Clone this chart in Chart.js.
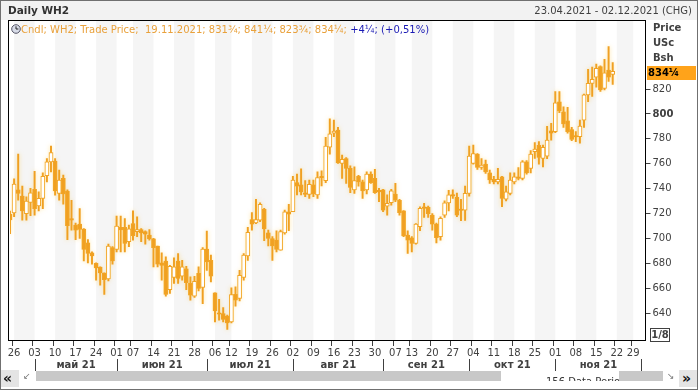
<!DOCTYPE html>
<html>
<head>
<meta charset="utf-8">
<script src="https://cdn.jsdelivr.net/npm/chart.js@4.4.1/dist/chart.umd.min.js"></script>
<style>
body{margin:0;background:#fff;}
#wrap{position:relative;width:698px;height:390px;overflow:hidden;background:#fff;font-family:"DejaVu Sans",sans-serif;font-size:10px;color:#404040;}
#wrap div{position:absolute;white-space:nowrap;}
#chart{position:absolute;left:0;top:0;}
.b{font-weight:bold;}
</style>
</head>
<body>
<div id="wrap">
  <div style="left:0;top:0;width:698px;height:20px;background:#f2f2f2;"></div>
  <canvas id="chart" width="698" height="390"></canvas>
  <div class="b" style="left:8px;top:4px;font-size:10.5px;color:#333;">Daily WH2</div>
  <div style="right:6px;top:5px;">23.04.2021 - 02.12.2021 (CHG)</div>
  <div style="left:11px;top:24px;">
    <svg width="10" height="10" style="vertical-align:-1px"><circle cx="5" cy="5" r="4.3" fill="#d8dce8" stroke="#556" stroke-width="1"/><path d="M5 2.3V5H7.4" stroke="#222" fill="none" stroke-width="1"/></svg><span style="color:#e9a13b">Cndl; WH2; Trade Price;&nbsp; 19.11.2021; 831¾; 841¼; 823¾; 834¼;</span> <span style="color:#1a1ab4">+4¼; (+0,51%)</span>
  </div>
  <div class="b" style="left:653px;top:22px;">Price</div>
  <div class="b" style="left:653px;top:37px;">USc</div>
  <div class="b" style="left:653px;top:52px;">Bsh</div>
  <div class="b" style="left:647px;top:66px;width:48px;height:14px;line-height:14px;background:#ffa31a;color:#000;padding-left:1px;">834¼</div>
  <div class="b" style="left:650px;top:328px;width:18px;height:12px;line-height:12px;border:1px solid #404040;text-align:center;">1/8</div>
  <div style="left:0;top:370px;width:19px;height:17px;background:#e4e4e4;"></div>
  <div class="b" style="left:3px;top:370px;font-size:14px;line-height:17px;color:#111;">«</div>
  <div style="left:23px;top:371px;font-size:9px;color:#777;">↙</div>
  <div style="left:36px;top:371px;width:465px;height:10px;background:#c8c8c8;"></div>
  <div style="left:619px;top:371px;width:44px;height:10px;background:#c8c8c8;"></div>
  <div style="left:545px;top:371px;width:74px;height:10px;overflow:hidden;background:#fff;"><span style="position:absolute;left:1px;top:5px;font-size:10px;color:#333;">156 Data Period</span></div>
  <div style="left:667px;top:371px;font-size:9px;color:#777;">↘</div>
  <div style="left:679px;top:370px;width:18px;height:17px;background:#e4e4e4;"></div>
  <div class="b" style="left:682px;top:370px;font-size:14px;line-height:17px;color:#111;">»</div>
  <div style="left:0;top:0;width:696px;height:388px;border:1px solid #707070;"></div>
</div>
<script>
var FONT = '"DejaVu Sans", sans-serif';
var ORANGE = '#f0a022';
var BAND = '#f5f5f5';

// trading days shown on the axis (last 8 are still empty)
var dates = ('23.04 26.04 27.04 28.04 29.04 30.04 ' +
  '03.05 04.05 05.05 06.05 07.05 10.05 11.05 12.05 13.05 14.05 17.05 18.05 19.05 20.05 21.05 24.05 25.05 26.05 27.05 28.05 ' +
  '01.06 02.06 03.06 04.06 07.06 08.06 09.06 10.06 11.06 14.06 15.06 16.06 17.06 18.06 21.06 22.06 23.06 24.06 25.06 28.06 29.06 30.06 ' +
  '01.07 02.07 06.07 07.07 08.07 09.07 12.07 13.07 14.07 15.07 16.07 19.07 20.07 21.07 22.07 23.07 26.07 27.07 28.07 29.07 30.07 ' +
  '02.08 03.08 04.08 05.08 06.08 09.08 10.08 11.08 12.08 13.08 16.08 17.08 18.08 19.08 20.08 23.08 24.08 25.08 26.08 27.08 30.08 31.08 ' +
  '01.09 02.09 03.09 07.09 08.09 09.09 10.09 13.09 14.09 15.09 16.09 17.09 20.09 21.09 22.09 23.09 24.09 27.09 28.09 29.09 30.09 ' +
  '01.10 04.10 05.10 06.10 07.10 08.10 11.10 12.10 13.10 14.10 15.10 18.10 19.10 20.10 21.10 22.10 25.10 26.10 27.10 28.10 29.10 ' +
  '01.11 02.11 03.11 04.11 05.11 08.11 09.11 10.11 11.11 12.11 15.11 16.11 17.11 18.11 19.11 22.11 23.11 24.11 26.11 29.11 30.11 ' +
  '01.12 02.12').split(' ');

var monthNames = ['май 21', 'июн 21', 'июл 21', 'авг 21', 'сен 21', 'окт 21', 'ноя 21'];
var priceTicks = [640, 660, 680, 700, 720, 740, 760, 780, 800, 820];

var opens = [
  719.5,720.5,739,734,720,729,739.5,726.25,732.25,750.5,
  761.5,762.25,736.25,748.25,738,714.75,710.75,711.5,707.5,696.5,
  688.5,680,677,672.25,667.5,692.75,691.25,709,709,697.5,
  712,705.5,707.25,705.5,702.75,699.75,694,680.5,682,659,
  668.75,682,669.75,675.75,664,653.75,672,660.75,691.5,682.5,
  656.5,639.25,639.75,637.75,633,655.25,652,668.75,686,715.25,
  712.5,714.75,723.5,704.5,700,698.75,690.75,704.5,721.5,721.5,
  745,743,735.5,735.5,743,735,748.75,746.5,773.25,784.5,
  787,760.25,764.25,756.25,739,750,745.5,739,751.75,748.25,
  737.5,739,726,728.75,735.75,730.75,722.25,702.75,700.5,696,
  709.5,724.25,725,718.75,711.5,701.5,718.75,728.5,734,733,
  722.5,722.75,736.25,760.25,767.75,757,759.75,752.75,747.5,745.5,
  749.5,731.5,736.25,745.5,748.75,748.25,761.5,756.25,769.75,774.75,
  764.25,766,786.5,785.75,809.75,801.75,794.5,787.5,781.75,781.75,
  795,815.25,824.5,829.5,838,820.5,835.25,831.75];
var highs = [
  722,748,767.75,742,733.5,740.25,754,737.5,752.75,764.25,
  774.25,764.25,755,751,739,730.75,712.5,724,708,699.25,
  689.25,680.5,677.25,672.5,695.5,693.5,718,718,716,710.75,
  722.25,717.5,708,706.25,707.25,700.25,694,688.5,685.25,678.5,
  684.5,688,682.5,677.75,669.25,669.75,677.25,692.75,706,686.75,
  656.5,651.25,644.5,638.5,660.5,661.25,674.5,688,709,720.75,
  731.5,728.75,724.25,706.75,701.5,706.25,706.75,722.75,727.5,750,
  751.75,756,746.5,747,747,753.5,754.25,781.25,796,795,
  789.25,767,765,758.25,757.5,750.75,747,753.5,753.5,755.5,
  740.25,739.5,735,739.5,744.25,731.5,722.5,706.25,701.5,712,
  725.5,728.25,726,720,712.5,717.5,730.25,738.75,739,736.5,
  731.5,742,774.25,775,768.25,764.25,763,755,750,756.25,
  750,742,752.75,752.75,757,762.5,762.5,770.5,777,777.75,
  775,790,792.5,818,818,805.75,805.25,789.25,785.75,795,
  816,835.75,837.5,840,838.5,843.75,854,841.25];
var lows = [
  704,717.5,730.75,714.75,714.75,718.25,718.75,722.25,724,745.5,
  753.5,734.75,730.75,727.5,699,706.75,699,700,682,680.5,
  679.5,666.5,662.5,655.25,666,679.5,689.25,689.25,689.25,693.5,
  698.75,701.5,697.5,695.5,698.75,677.25,677.25,666.5,653.75,656,
  664,664,666.5,659,650.5,652.75,658,647.75,674.5,665.25,
  633,634.5,633,627,632.25,645.75,650,666.5,682.5,706.75,
  712,713.5,698.25,694,682.5,689.25,690.75,703.5,706.25,721.5,
  735,735,733.5,732.25,733.5,732.25,742.25,744.75,767.75,781.75,
  760.25,748.25,744.25,736.75,736.25,742,732.25,735.75,744.25,736.25,
  729.5,721.5,718.75,726.75,729.5,718.75,701.5,688,689.25,695.5,
  706.25,717,717,706.75,696.5,698.75,717,722.25,732.25,717.5,
  714.25,714.5,734,759.75,755.5,755.5,752.25,744.25,743.75,743.75,
  725.5,730.25,735,743.75,747,747,751.75,752.75,764.25,759.75,
  757.5,764,779,785,801,789.25,784.5,778.5,777.75,776.5,
  789.25,809.75,814,821.5,818,819.25,826,823.75];
var closes = [
  715,743.75,736.25,722.25,730,736.75,724,732.25,750,761.5,
  769,738.25,747,735.75,710.25,715,706.75,707.25,691.25,688,
  686,676.5,672.5,667,694,682,710,707,696,707.75,
  702.25,707.25,704.5,703.5,699.75,692.75,679.5,678.5,655.25,677.75,
  677.25,668,677.25,664.5,654.5,665.75,660,691.5,681.25,669.75,
  642,639.5,635,632.25,655,650.5,670.5,686.75,705,711.5,
  715.25,727.5,707.75,700,694,691.25,705.5,721.5,719.5,747,
  742,737.5,735.75,743.5,735.75,749,749,774.25,784,786.25,
  760.75,763.5,756.25,741,746.5,745.5,738.25,751.75,744.75,736.75,
  737.75,722.75,728.25,738.25,730.75,720.75,702,698.75,696,711.5,
  724.25,724.5,720,711.5,700.75,716.25,728.75,735,734.5,718.75,
  722.75,736.25,766.25,768.25,757,759,753.5,747,745.5,747.5,
  732.25,737.5,747,749.5,748.25,761.5,752.75,767.75,771.75,765,
  773.25,779,784.5,809,802.5,792,785.75,779.5,781.5,790.25,
  815.25,824.5,827.75,836.5,819.25,833,829.5,834.25];

// week and month boundaries from the dates
var tickText = [], weekStarts = [], monthStarts = [];
var prevDay = null, prevMonth = null;
dates.forEach(function(d, i) {
  var dd = d.slice(0, 2), mm = d.slice(3, 5);
  var wd = new Date(2021, +mm - 1, +dd).getDay();
  var newWeek = prevDay !== null && wd < prevDay;
  tickText.push(newWeek ? dd : '');
  if (newWeek) weekStarts.push(i);
  if (prevMonth !== null && mm !== prevMonth) monthStarts.push(i);
  prevDay = wd; prevMonth = mm;
});

var wicks = lows.map(function(l, i) { return [l, highs[i]]; });
var bodies = opens.map(function(o, i) { return [Math.min(o, closes[i]), Math.max(o, closes[i])]; });
var fills = opens.map(function(o, i) { return closes[i] - o > 0.5 ? '#ffffff' : ORANGE; });

var decor = {
  id: 'decor',
  beforeDatasetsDraw: function(chart) {
    var ctx = chart.ctx, a = chart.chartArea, x = chart.scales.x;
    ctx.save();
    ctx.fillStyle = BAND;
    for (var k = 0; k < weekStarts.length; k += 2) {
      var x0 = x.getPixelForValue(weekStarts[k]);
      var x1 = k + 1 < weekStarts.length ? x.getPixelForValue(weekStarts[k + 1]) : a.right;
      ctx.fillRect(x0, a.top, x1 - x0, a.bottom - a.top);
    }
    ctx.restore();
    ctx.save();
    ctx.shadowColor = 'rgba(255,205,80,0.6)';
    ctx.shadowBlur = 4;
  },
  afterDatasetsDraw: function(chart) {
    chart.ctx.restore();
  },
  afterDraw: function(chart) {
    var ctx = chart.ctx, x = chart.scales.x;
    ctx.save();
    ctx.strokeStyle = '#000';
    ctx.lineWidth = 1;
    ctx.strokeRect(8.5, 20.5, 637, 320);
    // month row
    ctx.strokeStyle = '#404040';
    ctx.fillStyle = '#404040';
    ctx.font = 'bold 10px ' + FONT;
    ctx.textAlign = 'center';
    ctx.textBaseline = 'middle';
    for (var m = 0; m < monthStarts.length; m++) {
      var px = Math.round(x.getPixelForValue(monthStarts[m])) + 0.5;
      ctx.beginPath();
      ctx.moveTo(px, 359);
      ctx.lineTo(px, 371);
      ctx.stroke();
      if (m + 1 < monthStarts.length) {
        var nx = x.getPixelForValue(monthStarts[m + 1]);
        ctx.fillText(monthNames[m], (px + nx) / 2, 365);
      }
    }
    ctx.restore();
  }
};

new Chart(document.getElementById('chart'), {
  type: 'bar',
  data: {
    labels: dates,
    datasets: [
      { label: 'wick', data: wicks, backgroundColor: ORANGE, barThickness: 1.3, grouped: false, order: 2, borderWidth: 0 },
      { label: 'body', data: bodies, backgroundColor: fills, borderColor: ORANGE, borderWidth: 1,
        borderSkipped: false, barThickness: 4, minBarLength: 1.5, grouped: false, order: 1 }
    ]
  },
  options: {
    responsive: false,
    animation: false,
    devicePixelRatio: 1,
    layout: { padding: { left: 10, top: 21, right: 0, bottom: 0 } },
    plugins: { legend: { display: false }, tooltip: { enabled: false } },
    scales: {
      x: {
        type: 'category',
        offset: false,
        border: { display: false },
        grid: {
          drawOnChartArea: false, drawTicks: true, tickLength: 5,
          color: function(c) { return tickText[c.index] ? '#404040' : 'rgba(0,0,0,0)'; }
        },
        ticks: {
          autoSkip: false, maxRotation: 0, minRotation: 0, padding: 1,
          color: '#404040', font: { family: FONT, size: 10 },
          callback: function(v, i) { return tickText[i]; }
        },
        afterFit: function(s) { s.height = 49; s.paddingLeft = 0; s.paddingRight = 0; }
      },
      y: {
        position: 'right',
        min: 617.77,
        max: 874.57,
        border: { display: false },
        grid: { drawOnChartArea: false, drawTicks: true, tickLength: 5, color: '#404040' },
        afterBuildTicks: function(s) { s.ticks = priceTicks.map(function(v) { return { value: v }; }); },
        ticks: {
          padding: 2, color: '#404040',
          font: function(c) { return { family: FONT, size: 10, weight: c.tick && c.tick.value === 800 ? 'bold' : 'normal' }; },
          callback: function(v) { return String(v); }
        },
        afterFit: function(s) { s.width = 52.5; s.paddingTop = 0; s.paddingBottom = 0; }
      }
    }
  },
  plugins: [decor]
});
</script>
</body>
</html>
